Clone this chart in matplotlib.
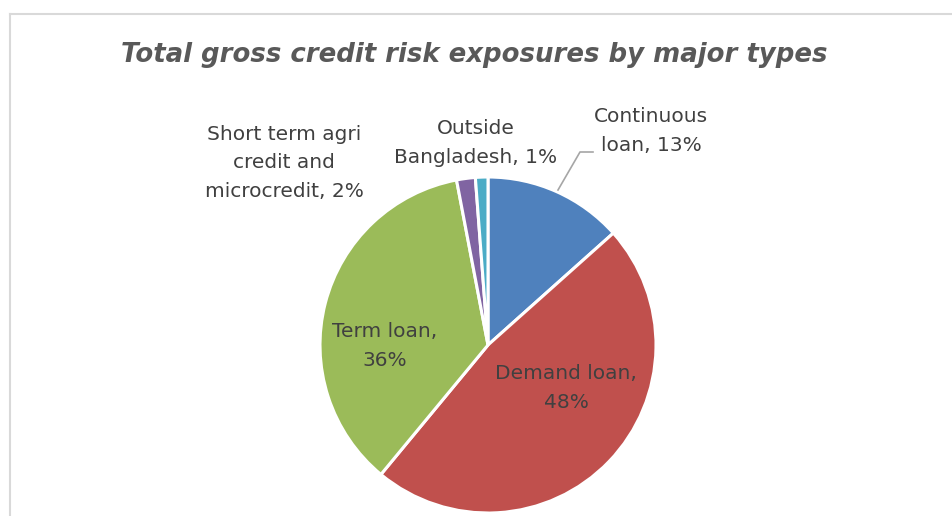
import matplotlib
matplotlib.use("Agg")
import matplotlib.pyplot as plt

# data
categories = ["Continuous loan", "Demand loan", "Term loan",
              "Short term agri credit and microcredit", "Outside Bangladesh"]
values = [13.4, 47.6, 36.0, 1.8, 1.2]
label_texts = ["Continuous\nloan, 13%", "Demand loan,\n48%", "Term loan,\n36%",
               "Short term agri\ncredit and\nmicrocredit, 2%", "Outside\nBangladesh, 1%"]
colors = ["#4F81BD", "#C0504D", "#9BBB59", "#8064A2", "#4BACC6"]

W, H = 952, 516
fig = plt.figure(figsize=(W / 100, H / 100), dpi=100)
ax = fig.add_axes([0, 0, 1, 1])

def py(y):
    # pixel row (from top) -> data y
    return H - y

# chart area border (left and top only visible)
ax.plot([10, 10], [py(14), py(H + 5)], color="#d9d9d9", lw=1.5, clip_on=False)
ax.plot([10, W + 5], [py(14), py(14)], color="#d9d9d9", lw=1.5, clip_on=False)

ax.pie(values, colors=colors, startangle=90, counterclock=False,
       center=(488, py(345)), radius=168, frame=True,
       wedgeprops=dict(edgecolor="white", linewidth=2.2))
ax.set_xlim(0, W)
ax.set_ylim(0, H)
ax.set_aspect("equal")
ax.axis("off")

ax.text(474, py(55), "Total gross credit risk exposures by major types",
        ha="center", va="center", fontsize=18.7, fontweight="bold",
        fontstyle="italic", color="#595959")

lbl = dict(ha="center", va="center", fontsize=14.5, color="#404040", linespacing=1.62)
label_pos = [(651, 131), (566, 388), (385, 346), (284, 163), (476, 143)]
for txt, (x, y) in zip(label_texts, label_pos):
    ax.text(x, py(y), txt, **lbl)

# leader line for the continuous loan label
ax.plot([558, 580, 593], [py(190), py(152), py(152)], color="#a6a6a6", lw=1.2)

fig.savefig("out.png", dpi=100)
